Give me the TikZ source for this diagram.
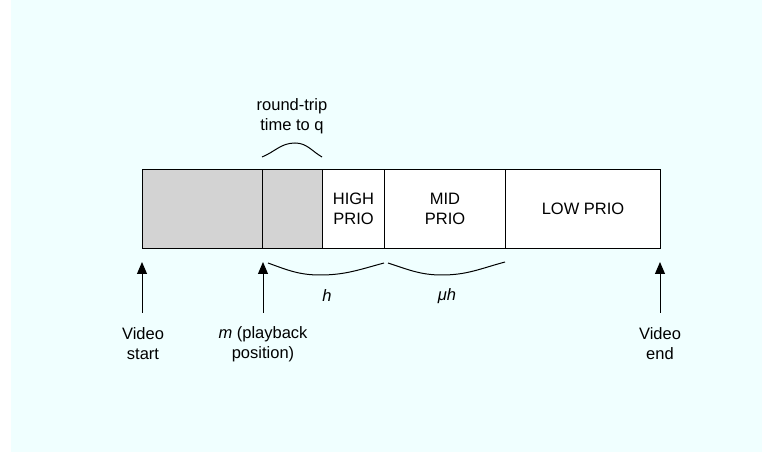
\documentclass[tikz,border=0pt]{standalone}
\usepackage{fontspec}
\setmainfont{Liberation Sans}
\usetikzlibrary{arrows.meta}
\definecolor{bgcyan}{HTML}{F0FFFF}
\definecolor{segray}{HTML}{D3D3D3}
\begin{document}
\begin{tikzpicture}[x=1pt,y=-1pt,
  every node/.style={font=\fontsize{16.5}{20}\selectfont, inner sep=0pt, align=center},
  seg/.style={draw=black, line width=1pt, minimum height=79pt, anchor=north west},
  brace/.style={draw=black, line width=1pt},
  ptr/.style={draw=black, line width=1pt, -{Triangle[length=12pt,width=10pt]}}]
\useasboundingbox (0,0) rectangle (763,454);
\fill[white] (0,0) rectangle (763,454);
\fill[bgcyan] (11,0) rectangle (762,452);
% bar segments
\node[seg, fill=segray, minimum width=120pt] (s1) at (142,169) {};
\node[seg, fill=segray, minimum width=60pt] (s2) at (262,169) {};
\node[seg, fill=white, minimum width=62pt] (s3) at (322,169) {HIGH\\PRIO};
\node[seg, fill=white, minimum width=121pt] (s4) at (384,169) {MID\\PRIO};
\node[seg, fill=white, minimum width=155pt] (s5) at (505,169) {LOW PRIO};
% top brace
\coordinate (ta) at (262,157);
\coordinate (tp) at (295,143);
\coordinate (tb) at (322,157);
\draw[brace] (ta) to[out=22,in=180] (tp) to[out=0,in=150] (tb);
\node (rt) at (292,116) {round-trip\\time to q};
% bottom braces
\coordinate (ha) at (268,263);
\coordinate (hm) at (320,275);
\coordinate (hb) at (384,263);
\draw[brace] (ha) to[out=-20,in=180] (hm) to[out=0,in=-165] (hb);
\node (hl) at (327,296) {\itshape h};
\coordinate (ua) at (388,263);
\coordinate (um) at (442,275);
\coordinate (ub) at (505,262);
\draw[brace] (ua) to[out=-18,in=180] (um) to[out=0,in=-165] (ub);
\node (ul) at (447,296) {\itshape μh};
% pointers
\coordinate (vs) at (142,313);
\coordinate (vst) at (142,262);
\draw[ptr] (vs) -- (vst);
\node (vsl) at (143,344) {Video\\start};
\coordinate (mp) at (263,313);
\coordinate (mpt) at (263,262);
\draw[ptr] (mp) -- (mpt);
\node (mpl) at (263,344) {\textit{m} (playback\\position)};
\coordinate (ve) at (660,313);
\coordinate (vet) at (660,262);
\draw[ptr] (ve) -- (vet);
\node (vel) at (660,344) {Video\\end};
\end{tikzpicture}
\end{document}
